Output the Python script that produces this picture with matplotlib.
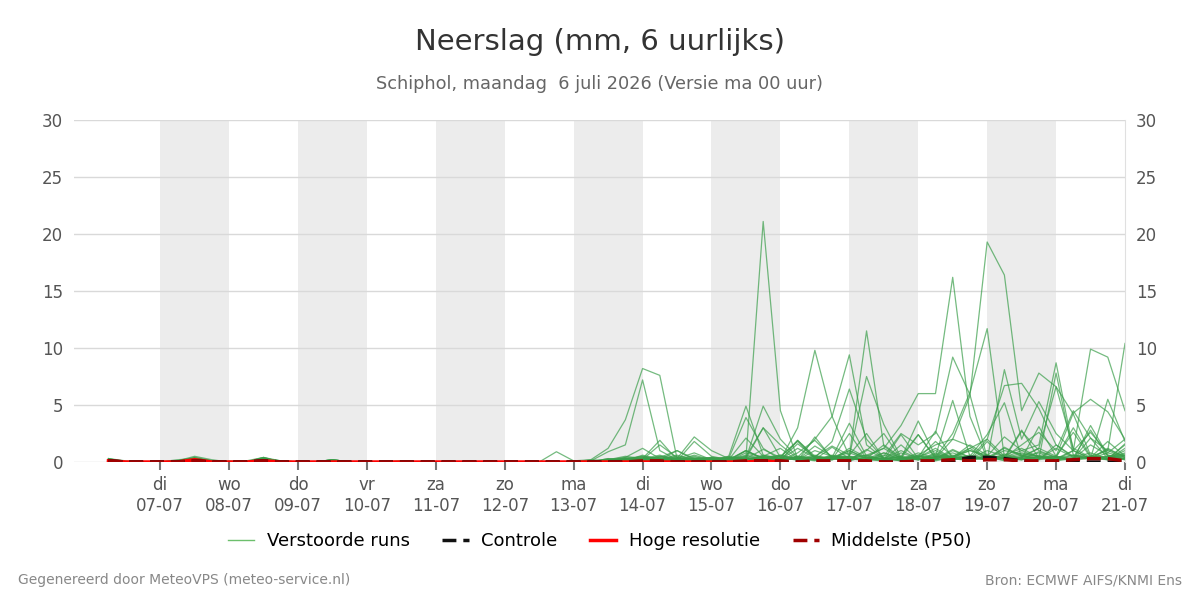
import matplotlib
matplotlib.use("Agg")
import matplotlib.pyplot as plt
from matplotlib.lines import Line2D
import pandas as pd

# tijdstappen: 6-uurlijks van 6 juli 06 uur t/m 21 juli 00 uur
tijden = pd.date_range("2026-07-06 06:00", "2026-07-21 00:00", freq="6h")

dag_ticks = pd.date_range("2026-07-07", "2026-07-21", freq="D")
dag_namen = ["di", "wo", "do", "vr", "za", "zo", "ma",
             "di", "wo", "do", "vr", "za", "zo", "ma", "di"]

# Verstoorde runs (mm per 6 uur), per dag 4 waarden
runs = [
    [0.2, 0, 0, 0, 0.1, 0.4, 0.1, 0, 0, 0.3, 0.1, 0, 0, 0.1, 0, 0, 0, 0, 0, 0, 0, 0, 0, 0, 0, 0, 0,
     0, 0, 0.2, 0.5, 0.3, 0.1, 0, 0.2, 0, 0, 0.4, 21.1, 4.5, 0.3, 0.1, 0.5, 0.2, 1.1, 0.3, 0.1,
     0.5, 0.2, 1.0, 0.4, 0.2, 0.6, 1.2, 0.4, 0.1, 0.3, 1.5, 0.6, 0.3],
    [0.3, 0.1, 0, 0, 0.1, 0.5, 0.2, 0, 0.1, 0.4, 0, 0, 0, 0.2, 0, 0, 0, 0.1, 0, 0, 0, 0, 0, 0, 0, 0, 0,
     0, 0.2, 1.2, 3.7, 8.2, 7.6, 0.3, 0.8, 0.2, 0.1, 1.0, 0.3, 0.1, 1.9, 0.4, 0.2, 2.5, 0.3, 0.1, 0.8,
     0.3, 0.1, 0.4, 1.5, 0.6, 0.3, 2.7, 1.0, 0.4, 0.2, 0.3, 1.1, 0.5],
    [0.2, 0, 0, 0, 0, 0.3, 0.1, 0, 0, 0.2, 0.1, 0, 0, 0.1, 0, 0, 0, 0, 0, 0, 0, 0, 0, 0, 0, 0, 0,
     0, 0.1, 0.9, 1.5, 7.2, 1.0, 0.2, 0.3, 0.1, 0.4, 0.2, 0.5, 1.2, 0.1, 2.2, 0.3, 0.1, 0.5, 0.2, 1.5,
     0.2, 0.7, 0.3, 0.1, 1.8, 0.3, 0.2, 0.9, 0.4, 3.0, 0.5, 0.2, 1.2],
    [0.1, 0, 0, 0, 0, 0.2, 0, 0, 0, 0.3, 0, 0, 0, 0, 0, 0, 0, 0, 0, 0, 0, 0, 0, 0, 0, 0, 0.9,
     0.1, 0.2, 0.1, 0.3, 0.5, 0.1, 0.3, 2.2, 1.0, 0.3, 3.9, 1.2, 0.2, 3.0, 9.8, 4.0, 0.5, 0.2, 0.1, 0.3,
     0.4, 1.2, 0.3, 0.2, 0.5, 0.1, 0.4, 0.8, 0.2, 1.0, 0.3, 0.5, 0.2],
    [0.2, 0, 0, 0, 0.2, 0.3, 0.1, 0, 0, 0.2, 0, 0, 0, 0.2, 0, 0, 0, 0, 0, 0, 0, 0, 0, 0, 0, 0, 0,
     0, 0, 0.1, 0.2, 0.4, 0.2, 0.1, 0.3, 0.1, 0.5, 4.9, 0.6, 0.3, 0.2, 1.0, 0.5, 0.4, 0.6, 1.2, 3.2,
     6.0, 6.0, 16.2, 4.0, 0.3, 1.0, 0.7, 0.5, 0.2, 0.4, 0.3, 0.8, 0.4],
    [0.3, 0, 0, 0, 0, 0.4, 0.1, 0.1, 0, 0.2, 0, 0, 0, 0.1, 0, 0, 0, 0.1, 0, 0, 0, 0, 0, 0, 0, 0, 0,
     0, 0.1, 0.2, 0.1, 0.6, 0.2, 0.1, 0.3, 0.2, 0.1, 0.5, 3.0, 1.5, 0.3, 0.2, 0.5, 0.3, 0.1, 0.8, 0.4,
     0.6, 1.5, 2.0, 5.8, 19.3, 16.4, 4.5, 7.8, 6.6, 1.2, 0.4, 0.3, 0.6],
    [0.1, 0, 0, 0, 0, 0.2, 0, 0, 0, 0.3, 0.1, 0, 0, 0, 0, 0, 0, 0, 0, 0, 0, 0, 0, 0, 0, 0, 0,
     0, 0, 0.3, 0.1, 0.2, 1.5, 0.4, 0.1, 0.3, 0.2, 2.1, 0.5, 0.1, 0.8, 1.9, 0.4, 3.4, 0.5, 1.2, 0.3,
     2.4, 0.4, 2.5, 6.1, 11.7, 0.4, 1.5, 2.6, 1.0, 4.5, 2.1, 0.3, 1.5],
    [0.2, 0, 0, 0, 0, 0.1, 0, 0, 0, 0.2, 0, 0, 0, 0, 0, 0, 0, 0, 0, 0, 0, 0, 0, 0, 0, 0, 0,
     0, 0, 0, 0.2, 0.1, 0.4, 1.0, 0.2, 0.1, 0, 0.3, 1.1, 0.4, 0.2, 0.5, 1.4, 0.6, 2.5, 0.3, 0.2,
     0.8, 0.3, 0.5, 1.2, 0.2, 8.1, 2.0, 5.3, 2.5, 1.0, 2.6, 0.8, 2.0],
    [0.2, 0, 0, 0, 0.1, 0.3, 0, 0, 0, 0.4, 0.1, 0, 0, 0.2, 0, 0, 0, 0, 0, 0, 0, 0, 0, 0, 0, 0, 0,
     0, 0.1, 0, 0.3, 0.2, 0.5, 0.2, 0.1, 0.4, 0.2, 1.0, 0.3, 0.2, 1.2, 0.4, 0.2, 1.0, 0.3, 1.5, 0.4,
     0.2, 0.5, 0.3, 1.2, 2.0, 6.7, 6.9, 4.7, 1.5, 0.5, 0.3, 5.5, 1.8],
    [0.1, 0, 0, 0, 0, 0.2, 0.1, 0, 0, 0.1, 0, 0, 0, 0.1, 0, 0, 0, 0, 0, 0, 0, 0, 0, 0, 0, 0, 0,
     0, 0, 0.1, 0.4, 1.2, 0.3, 0.1, 1.8, 0.5, 0.2, 0.3, 4.9, 2.0, 0.4, 0.2, 1.3, 0.3, 0.6, 0.2, 2.4,
     0.3, 0.2, 0.4, 0.5, 0.2, 0.4, 1.0, 1.5, 8.7, 1.0, 0.3, 0.5, 0.7],
    [0.2, 0, 0, 0, 0, 0.1, 0, 0, 0, 0.2, 0, 0, 0, 0.1, 0, 0, 0, 0, 0, 0, 0, 0, 0, 0, 0, 0, 0,
     0, 0, 0.2, 0.3, 0.1, 0.3, 0.6, 0.2, 0.1, 0.3, 0.2, 0.4, 0.5, 1.8, 0.3, 0.2, 0.4, 0.2, 0.3, 1.0,
     0.3, 0.5, 0.2, 0.4, 0.6, 0.3, 0.2, 0.5, 0.3, 1.0, 9.9, 9.2, 4.5],
    [0.2, 0, 0, 0, 0.1, 0.3, 0, 0, 0, 0.3, 0, 0, 0, 0, 0, 0, 0, 0, 0, 0, 0, 0, 0, 0, 0, 0, 0,
     0, 0, 0.1, 0.2, 0.3, 0.2, 0.1, 0.4, 0.3, 0.1, 0.2, 0.6, 0.3, 0.2, 0.5, 0.3, 0.2, 0.4, 0.3, 0.1,
     0.6, 0.2, 0.4, 0.3, 1.0, 0.5, 0.3, 0.6, 0.2, 0.3, 0.5, 1.0, 10.4],
    [0.3, 0, 0, 0, 0, 0.2, 0.1, 0, 0, 0.2, 0, 0, 0, 0.1, 0, 0, 0, 0, 0, 0, 0, 0, 0, 0, 0, 0, 0,
     0, 0, 0.2, 0.1, 0.3, 0.2, 0.5, 0.2, 0.3, 0.1, 0.8, 0.4, 0.2, 0.3, 0.6, 0.2, 1.2, 0.4, 0.3, 0.5,
     0.2, 0.8, 0.4, 1.0, 0.5, 2.2, 1.0, 0.4, 0.5, 4.3, 5.5, 4.4, 2.0],
    [0.1, 0, 0, 0, 0, 0.1, 0, 0, 0, 0.2, 0, 0, 0, 0.1, 0, 0, 0, 0, 0, 0, 0, 0, 0, 0, 0, 0, 0,
     0, 0, 0, 0.1, 0.3, 0.6, 0.2, 0.5, 0.1, 0.2, 1.0, 0.3, 0.3, 0.4, 2.0, 4.0, 9.4, 1.5, 0.3, 0.2,
     0.4, 1.0, 0.3, 0.6, 0.2, 1.3, 0.5, 0.3, 1.2, 0.4, 0.8, 0.3, 0.6],
    [0.2, 0, 0, 0, 0, 0.2, 0, 0, 0, 0.1, 0, 0, 0, 0, 0, 0, 0, 0, 0, 0, 0, 0, 0, 0, 0, 0, 0,
     0, 0, 0.1, 0.2, 0.2, 0.3, 0.1, 0.2, 0.4, 0.3, 0.2, 0.5, 0.2, 1.6, 0.4, 0.3, 0.5, 11.5, 1.4, 0.3,
     0.2, 0.4, 0.6, 0.3, 2.0, 0.5, 0.3, 0.4, 0.2, 0.6, 0.3, 1.2, 0.4],
    [0.2, 0, 0, 0, 0.1, 0.2, 0, 0, 0, 0.3, 0, 0, 0, 0.2, 0, 0, 0, 0, 0, 0, 0, 0, 0, 0, 0, 0, 0,
     0, 0, 0.2, 0.4, 0.3, 1.9, 0.2, 0.3, 0.2, 0.4, 0.3, 0.2, 0.5, 0.3, 0.4, 1.8, 6.4, 2.0, 0.3, 0.2,
     0.5, 0.3, 1.1, 0.4, 0.2, 0.7, 0.3, 3.1, 0.5, 0.2, 0.4, 0.3, 0.8],
    [0.1, 0, 0, 0, 0, 0.2, 0, 0, 0, 0.2, 0, 0, 0, 0, 0, 0, 0, 0, 0, 0, 0, 0, 0, 0, 0, 0, 0,
     0, 0, 0.1, 0.2, 0.4, 0.2, 1.0, 0.3, 0.2, 0.3, 0.2, 0.4, 0.6, 0.2, 1.4, 0.5, 0.5, 7.5, 3.3, 0.4,
     0.3, 1.8, 0.5, 0.2, 0.4, 1.2, 0.6, 0.3, 0.5, 2.6, 0.4, 0.2, 1.6],
    [0.2, 0, 0, 0, 0, 0.3, 0, 0, 0, 0.2, 0.1, 0, 0, 0.1, 0, 0, 0, 0, 0, 0, 0, 0, 0, 0, 0, 0, 0,
     0, 0, 0.2, 0.1, 0.3, 0.2, 0.4, 0.1, 0.3, 0.2, 0.6, 0.3, 0.2, 0.5, 0.3, 0.4, 1.0, 0.3, 0.5, 2.5,
     1.5, 2.5, 9.2, 5.9, 0.4, 0.3, 0.6, 0.2, 1.5, 0.4, 2.8, 0.5, 0.3],
    [0.2, 0, 0, 0, 0, 0.1, 0, 0, 0, 0.1, 0, 0, 0, 0, 0, 0, 0, 0, 0, 0, 0, 0, 0, 0, 0, 0, 0,
     0, 0, 0, 0.2, 0.5, 0.3, 0.2, 0.6, 0.2, 0.5, 0.3, 3.0, 0.4, 1.9, 0.5, 0.3, 0.2, 1.0, 2.5, 0.3,
     3.6, 0.5, 5.4, 0.5, 2.4, 5.2, 0.4, 1.2, 0.5, 0.3, 2.1, 1.0, 0.4],
    [0.1, 0, 0, 0, 0, 0.2, 0, 0, 0, 0.2, 0, 0, 0, 0.1, 0, 0, 0, 0, 0, 0, 0, 0, 0, 0, 0, 0, 0,
     0, 0, 0.1, 0.1, 0.2, 0.4, 0.2, 0.1, 0.2, 0.2, 0.4, 0.2, 0.3, 0.2, 0.3, 0.5, 0.3, 0.2, 0.6, 0.3,
     0.4, 2.7, 0.3, 0.2, 0.5, 0.4, 2.8, 0.3, 7.8, 0.6, 0.4, 1.8, 0.5],
    [0.2, 0, 0, 0, 0, 0.3, 0.1, 0, 0, 0.4, 0, 0, 0, 0.2, 0, 0, 0, 0, 0, 0, 0, 0, 0, 0, 0, 0, 0,
     0, 0, 0.3, 0.2, 0.1, 0.5, 0.3, 0.2, 0.1, 0.3, 0.5, 0.2, 0.6, 0.3, 0.2, 0.4, 0.8, 0.3, 0.2, 0.5,
     2.4, 0.3, 0.5, 1.0, 0.6, 0.3, 0.8, 0.5, 0.4, 0.2, 3.2, 0.6, 0.3],
    [0.1, 0, 0, 0, 0, 0.1, 0, 0, 0, 0.3, 0, 0, 0, 0.1, 0, 0, 0, 0, 0, 0, 0, 0, 0, 0, 0, 0, 0,
     0, 0, 0.1, 0.3, 0.2, 0.1, 0.2, 0.3, 0.4, 0.2, 0.3, 0.1, 0.3, 0.4, 0.2, 0.6, 0.3, 0.2, 0.4, 0.3,
     0.5, 0.3, 2.0, 1.4, 0.3, 0.2, 0.5, 1.2, 6.6, 4.2, 0.6, 0.3, 1.0],
    [0.2, 0, 0, 0, 0, 0.2, 0, 0, 0, 0.2, 0, 0, 0, 0, 0, 0, 0, 0, 0, 0, 0, 0, 0, 0, 0, 0, 0,
     0, 0, 0, 0.2, 0.1, 0.2, 0.3, 0.2, 0.1, 0.4, 0.2, 0.3, 0.2, 0.5, 0.3, 0.4, 0.2, 0.3, 0.8, 0.2,
     0.3, 0.6, 0.4, 0.2, 0.3, 0.5, 0.2, 0.4, 0.3, 0.2, 0.5, 0.4, 0.2],
    [0.1, 0, 0, 0, 0, 0.3, 0, 0, 0, 0.2, 0, 0, 0, 0.1, 0, 0, 0, 0, 0, 0, 0, 0, 0, 0, 0, 0, 0,
     0, 0, 0.2, 0.1, 0.3, 0.2, 0.1, 0.3, 0.2, 0.1, 0.3, 0.2, 0.4, 0.3, 0.2, 0.3, 0.5, 0.2, 0.3, 0.4,
     0.2, 0.4, 0.8, 0.3, 0.5, 0.3, 0.4, 0.2, 0.4, 0.6, 0.3, 0.2, 0.3],
]

controle = [0.1, 0, 0, 0, 0, 0.1, 0, 0, 0, 0.1, 0, 0, 0, 0, 0, 0, 0, 0, 0, 0, 0, 0, 0, 0, 0, 0, 0,
            0, 0, 0, 0, 0, 0, 0, 0, 0, 0, 0, 0.1, 0, 0, 0, 0, 0, 0, 0, 0,
            0, 0, 0.1, 0.4, 0.4, 0.3, 0.1, 0, 0, 0, 0, 0, 0]

# hoge resolutie loopt tot +240 uur
hoge_resolutie = [0.1, 0, 0, 0, 0, 0.2, 0, 0, 0, 0.1, 0, 0, 0, 0, 0, 0, 0, 0, 0, 0, 0, 0, 0, 0, 0, 0, 0,
                  0, 0, 0, 0, 0, 0, 0, 0, 0, 0, 0, 0.1, 0]

mediaan = [0.1, 0, 0, 0, 0, 0.1, 0, 0, 0, 0.1, 0, 0, 0, 0, 0, 0, 0, 0, 0, 0, 0, 0, 0, 0, 0, 0, 0,
           0, 0, 0, 0, 0.1, 0.1, 0, 0, 0, 0, 0.1, 0.1, 0.1, 0, 0.1, 0.1, 0.1, 0.1, 0, 0,
           0.1, 0.1, 0.2, 0.1, 0.2, 0.2, 0.1, 0.1, 0.1, 0.2, 0.3, 0.3, 0.1]

plt.rcParams["font.family"] = ["DejaVu Sans"]

fig = plt.figure(figsize=(12, 6), dpi=100)
ax = fig.add_axes([74 / 1200, 0.23, 1051 / 1200, 0.57])

# grijze banden om de dag
for start in pd.date_range("2026-07-07", "2026-07-20", freq="2D"):
    ax.axvspan(start, start + pd.Timedelta(days=1), color="#ececec", lw=0, zorder=0)

groen = "#3a9e4a"
for run in runs:
    ax.plot(tijden, run, color=groen, lw=0.9, alpha=0.7, zorder=2)

streep = (0, (4, 2))
ax.plot(tijden[:len(hoge_resolutie)], hoge_resolutie, color="#ff0000", lw=2.5, zorder=4)
ax.plot(tijden, controle, color="#111111", lw=2.5, ls=streep, zorder=5)
ax.plot(tijden, mediaan, color="#a00000", lw=2.5, ls=streep, zorder=6)

ax.set_xlim(pd.Timestamp("2026-07-05 18:00"), pd.Timestamp("2026-07-21 00:00"))
ax.set_ylim(0, 30)
ax.set_yticks(range(0, 31, 5))
ax.grid(axis="y", color="#d9d9d9", lw=1)
ax.set_axisbelow(True)

ax.set_xticks(dag_ticks)
ax.set_xticklabels([f"{n}\n{d.strftime('%d-%m')}" for n, d in zip(dag_namen, dag_ticks)])
ax.tick_params(axis="x", colors="#555555", labelsize=12, length=6, width=1.5, pad=4)
ax.tick_params(axis="x", color="#777777")
ax.tick_params(axis="y", colors="#555555", labelsize=12, length=0, pad=8)

for side in ["left", "top", "bottom"]:
    ax.spines[side].set_visible(False)
ax.spines["right"].set_color("#e0e0e0")

ax2 = ax.twinx()
ax2.set_ylim(0, 30)
ax2.set_yticks(range(0, 31, 5))
ax2.tick_params(axis="y", colors="#555555", labelsize=12, length=0, pad=8)
for side in ["left", "top", "bottom", "right"]:
    ax2.spines[side].set_visible(False)

fig.text(0.5, 0.93, "Neerslag (mm, 6 uurlijks)", ha="center", va="center",
         fontsize=21, color="#333333")
fig.text(0.5, 0.86, "Schiphol, maandag  6 juli 2026 (Versie ma 00 uur)", ha="center",
         va="center", fontsize=12.8, color="#666666")

handles = [
    Line2D([], [], color="#6cbf6c", lw=1),
    Line2D([], [], color="#111111", lw=2.5, ls=streep),
    Line2D([], [], color="#ff0000", lw=2.5),
    Line2D([], [], color="#a00000", lw=2.5, ls=streep),
]
labels = ["Verstoorde runs", "Controle", "Hoge resolutie", "Middelste (P50)"]
fig.legend(handles, labels, loc="center", bbox_to_anchor=(0.5, 0.098), ncol=4,
           frameon=False, fontsize=13, handlelength=1.45, handletextpad=0.7,
           columnspacing=1.8)

fig.text(0.015, 0.033, "Gegenereerd door MeteoVPS (meteo-service.nl)", ha="left",
         va="center", fontsize=10, color="#888888")
fig.text(0.985, 0.033, "Bron: ECMWF AIFS/KNMI Ens", ha="right", va="center",
         fontsize=10, color="#888888")

fig.savefig("out.png", dpi=100)
